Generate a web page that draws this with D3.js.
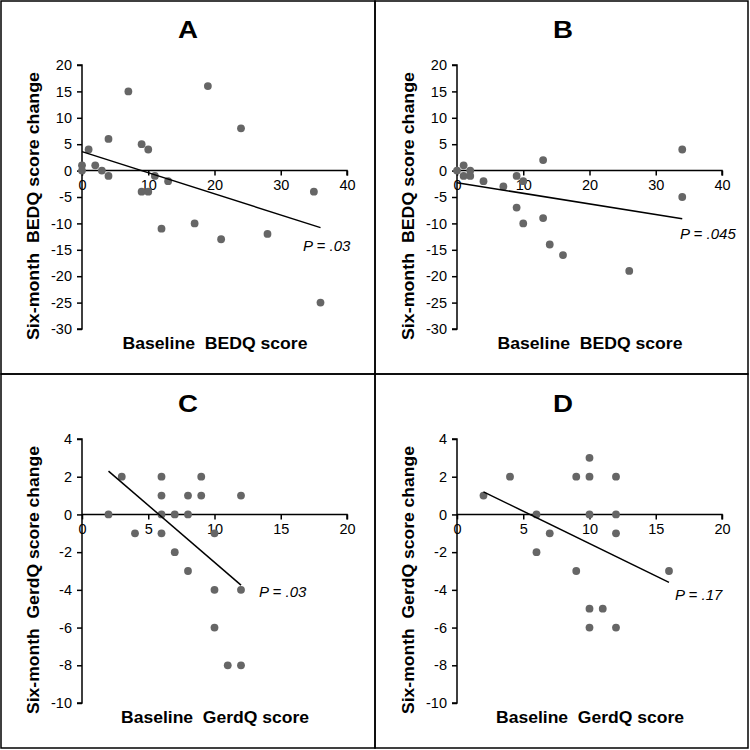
<!DOCTYPE html>
<html>
<head>
<meta charset="utf-8">
<script src="https://cdn.jsdelivr.net/npm/d3@7"></script>
<style>
  html, body { margin: 0; padding: 0; background: #fff; }
  svg { display: block; }
  text { white-space: pre; }
</style>
</head>
<body>
<div id="chart"></div>
<script>
// ---- Data ----
const panelLetters = ["A", "B", "C", "D"];
const xTitles = ["Baseline  BEDQ score", "Baseline  BEDQ score", "Baseline  GerdQ score", "Baseline  GerdQ score"];
const yTitles = ["Six-month  BEDQ score change", "Six-month  BEDQ score change", "Six-month  GerdQ score change", "Six-month  GerdQ score change"];
const pLabels = ["P = .03", "P = .045", "P = .03", "P = .17"];

const bedqXTicks = [0, 10, 20, 30, 40];
const bedqYTicks = [20, 15, 10, 5, 0, -5, -10, -15, -20, -25, -30];
const gerdXTicks = [0, 5, 10, 15, 20];
const gerdYTicks = [4, 2, 0, -2, -4, -6, -8, -10];

const aX = [0, 0, 1, 2, 3, 4, 4, 7, 9, 10, 9, 10, 11, 13, 12, 17, 19, 21, 24, 28, 35, 36];
const aY = [1, 0, 4, 1, 0, 6, -1, 15, 5, 4, -4, -4, -1, -2, -11, -10, 16, -13, 8, -12, -4, -25];
const aFit = [[0, 3.6], [36, -10.8]];

const bX = [0, 1, 1, 2, 2, 4, 7, 9, 10, 9, 10, 13, 13, 14, 16, 26, 34, 34];
const bY = [0, 1, -1, 0, -1, -2, -3, -1, -2, -7, -10, 2, -9, -14, -16, -19, 4, -5];
const bFit = [[0, -2.3], [34, -9.1]];

const cX = [2, 3, 4, 6, 6, 6, 6, 7, 7, 8, 8, 8, 9, 9, 10, 10, 10, 11, 12, 12, 12];
const cY = [0, 2, -1, 2, 1, 0, -1, 0, -2, 1, 0, -3, 2, 1, -1, -4, -6, -8, 1, -4, -8];
const cFit = [[2, 2.3], [12, -3.75]];

const dX = [2, 4, 6, 6, 7, 9, 9, 10, 10, 10, 10, 10, 11, 12, 12, 12, 12, 16];
const dY = [1, 2, 0, -2, -1, 2, -3, 3, 2, 0, -5, -6, -5, 2, 0, -1, -6, -3];
const dFit = [[2, 1.2], [16, -3.6]];

const panels = [
  { xs: aX, ys: aY, fit: aFit, xDom: [0, 40], yDom: [-30, 20], xt: bedqXTicks, yt: bedqYTicks },
  { xs: bX, ys: bY, fit: bFit, xDom: [0, 40], yDom: [-30, 20], xt: bedqXTicks, yt: bedqYTicks },
  { xs: cX, ys: cY, fit: cFit, xDom: [0, 20], yDom: [-10, 4], xt: gerdXTicks, yt: gerdYTicks },
  { xs: dX, ys: dY, fit: dFit, xDom: [0, 20], yDom: [-10, 4], xt: gerdXTicks, yt: gerdYTicks }
];

// ---- Layout ----
const W = 750, H = 750;
const svg = d3.select("#chart").append("svg").attr("width", W).attr("height", H);
const offsets = [[0, 0], [375, 0], [0, 374], [375, 374]];
const pPos = [[303, 251], [305, 239], [259, 223], [300, 226]];
const font = "'Liberation Sans', Arial, Helvetica, sans-serif";

panels.forEach((p, i) => {
  const [ox, oy] = offsets[i];
  const g = svg.append("g").attr("transform", `translate(${ox},${oy})`);
  g.append("rect").attr("x", i % 2 === 0 ? 1 : 0).attr("y", i < 2 ? 1 : 0)
    .attr("width", i % 2 === 0 ? 374 : 373).attr("height", i < 2 ? 373 : 374)
    .attr("fill", "none").attr("stroke", "#000").attr("stroke-width", 1.5);

  const x = d3.scaleLinear().domain(p.xDom).range([82, 347]);
  const y = d3.scaleLinear().domain(p.yDom).range([329, 65]);

  // title
  g.append("text").attr("x", 188).attr("y", 38).attr("text-anchor", "middle")
    .attr("font-family", font).attr("font-weight", "bold").attr("font-size", 24)
    .attr("textLength", 20).attr("lengthAdjust", "spacingAndGlyphs")
    .text(panelLetters[i]);

  // y axis
  const yAxis = d3.axisLeft(y).tickValues(p.yt).tickSize(5).tickPadding(5).tickFormat(d3.format("d"));
  const ya = g.append("g").attr("transform", `translate(${x(0)},0)`).call(yAxis);
  ya.select(".domain").attr("stroke-width", 1.5).attr("d", `M-5,${y(p.yDom[1])}H0V${y(p.yDom[0])}H-5`);
  ya.selectAll(".tick line").attr("stroke-width", 1.5);
  ya.selectAll(".tick text").attr("font-family", font).attr("font-size", 14.5).attr("fill", "#000")
    .text(d => d < 0 ? "-" + Math.abs(d) : d);

  // x axis at y=0
  const xAxis = d3.axisBottom(x).tickValues(p.xt).tickSize(5).tickPadding(4);
  const xa = g.append("g").attr("transform", `translate(0,${y(0)})`).call(xAxis);
  xa.select(".domain").attr("stroke-width", 1.5).attr("d", `M${x(p.xDom[0])},0H${x(p.xDom[1])}V5`);
  xa.selectAll(".tick line").attr("stroke-width", 1.5);
  xa.selectAll(".tick text").attr("font-family", font).attr("font-size", 14.5).attr("fill", "#000");

  // points
  g.append("g").selectAll("circle").data(p.xs.map((v, k) => [v, p.ys[k]])).join("circle")
    .attr("cx", d => x(d[0])).attr("cy", d => y(d[1])).attr("r", 3.9).attr("fill", "#666666");

  // regression line
  g.append("line").attr("x1", x(p.fit[0][0])).attr("y1", y(p.fit[0][1]))
    .attr("x2", x(p.fit[1][0])).attr("y2", y(p.fit[1][1]))
    .attr("stroke", "#000").attr("stroke-width", 1.5);

  // P label
  g.append("text").attr("x", pPos[i][0]).attr("y", pPos[i][1])
    .attr("font-family", font).attr("font-style", "italic").attr("font-size", 15)
    .text(pLabels[i]);

  // axis titles
  g.append("text").attr("x", 215).attr("y", 349).attr("text-anchor", "middle")
    .attr("font-family", font).attr("font-weight", "bold").attr("font-size", 17)
    .attr("textLength", i < 2 ? 185 : 188).attr("lengthAdjust", "spacingAndGlyphs")
    .text(xTitles[i]);
  g.append("text").attr("transform", `translate(39,206) rotate(-90)`).attr("text-anchor", "middle")
    .attr("font-family", font).attr("font-weight", "bold").attr("font-size", 17)
    .attr("textLength", 268).attr("lengthAdjust", "spacingAndGlyphs")
    .text(yTitles[i]);
});
</script>
</body>
</html>
